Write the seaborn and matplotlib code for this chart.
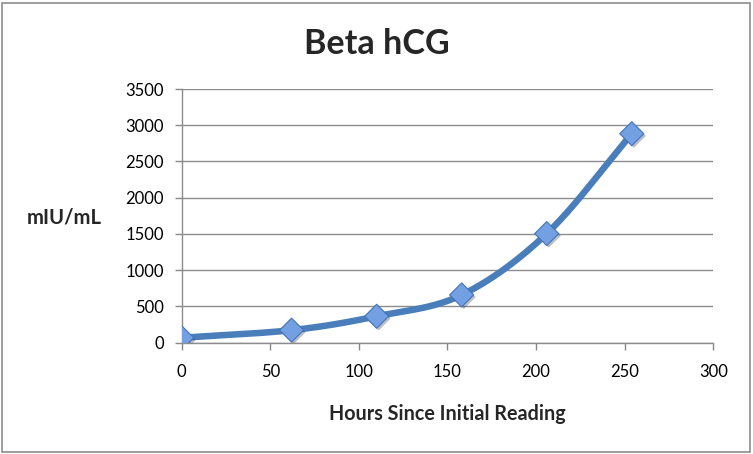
import numpy as np
import pandas as pd
import matplotlib
matplotlib.use("Agg")
import matplotlib.pyplot as plt
import matplotlib.patheffects as pe
import seaborn as sns

# Data
hours = [0, 62, 110, 158, 206, 254]
hcg = [68, 173, 364, 659, 1505, 2883]
x_ticks = [0, 50, 100, 150, 200, 250, 300]
y_ticks = [0, 500, 1000, 1500, 2000, 2500, 3000, 3500]
title = "Beta hCG"
x_label = "Hours Since Initial Reading"
y_label = "mIU/mL"

df = pd.DataFrame({"hours": hours, "hcg": hcg})


def smooth_curve(x, y, n=40):
    """Catmull-Rom style smoothing (like Excel's 'smoothed line')."""
    x = np.asarray(x, float)
    y = np.asarray(y, float)
    px = np.concatenate([[2 * x[0] - x[1]], x, [2 * x[-1] - x[-2]]])
    py = np.concatenate([[2 * y[0] - y[1]], y, [2 * y[-1] - y[-2]]])
    xs, ys = [], []
    t = np.linspace(0, 1, n)
    for i in range(1, len(px) - 2):
        p0x, p1x, p2x, p3x = px[i - 1:i + 3]
        p0y, p1y, p2y, p3y = py[i - 1:i + 3]
        c1x = p1x + (p2x - p0x) / 6
        c1y = p1y + (p2y - p0y) / 6
        c2x = p2x - (p3x - p1x) / 6
        c2y = p2y - (p3y - p1y) / 6
        bx = (1 - t) ** 3 * p1x + 3 * (1 - t) ** 2 * t * c1x + 3 * (1 - t) * t ** 2 * c2x + t ** 3 * p2x
        by = (1 - t) ** 3 * p1y + 3 * (1 - t) ** 2 * t * c1y + 3 * (1 - t) * t ** 2 * c2y + t ** 3 * p2y
        xs.append(bx)
        ys.append(by)
    return np.concatenate(xs), np.concatenate(ys)


sns.set_theme(style="white")
plt.rcParams["font.family"] = ["Lato", "DejaVu Sans"]

fig = plt.figure(figsize=(7.53, 4.54), dpi=100)
ax = fig.add_axes([181.7 / 753, 1 - 342.7 / 454, (713.3 - 181.7) / 753, (342.7 - 89) / 454])

sx, sy = smooth_curve(df["hours"], df["hcg"])
smooth_df = pd.DataFrame({"hours": sx, "hcg": sy})
sns.lineplot(data=smooth_df, x="hours", y="hcg", ax=ax, color="#4a7ebb",
             linewidth=4.7, sort=False, estimator=None, zorder=3,
             solid_capstyle="round")
sns.scatterplot(data=df, x="hours", y="hcg", ax=ax, marker="D", s=150,
                color="#72a0e2", edgecolor="#4474b5", linewidth=0.8, zorder=4,
                path_effects=[pe.SimplePatchShadow(offset=(1.5, -1.5), alpha=0.3), pe.Normal()])

ax.set_xlim(0, 300)
ax.set_ylim(0, 3500)
ax.set_xticks(x_ticks)
ax.set_yticks(y_ticks)
ax.set_xticklabels([str(v) for v in x_ticks])
ax.set_yticklabels([str(v) for v in y_ticks])
ax.tick_params(axis="both", labelsize=12, colors="#888888", labelcolor="black",
               length=5, width=1, direction="out", bottom=True, left=True, pad=10)
ax.tick_params(axis="y", pad=8)
ax.yaxis.grid(True, color="#8c8c8c", linewidth=1)
ax.xaxis.grid(False)
for side in ["top", "right"]:
    ax.spines[side].set_visible(False)
for side in ["left", "bottom"]:
    ax.spines[side].set_color("#8c8c8c")
    ax.spines[side].set_linewidth(1)
ax.set_xlabel("")
ax.set_ylabel("")

fig.text(376.5 / 753, 1 - 44 / 454, title, ha="center", va="center",
         fontsize=24.6, fontweight="bold")
fig.text(447.5 / 753, 1 - 414 / 454, x_label, ha="center", va="center",
         fontsize=14.2, fontweight="bold")
fig.text(64 / 753, 1 - 218 / 454, y_label, ha="center", va="center",
         fontsize=14.6, fontweight="bold")

# outer border
border = plt.Rectangle((2 / 753, 2 / 454), 1 - 5 / 753, 1 - 5 / 454,
                       transform=fig.transFigure, fill=False,
                       edgecolor="#8c8c8c", linewidth=1.2)
fig.patches.append(border)

fig.savefig("out.png", dpi=100)
